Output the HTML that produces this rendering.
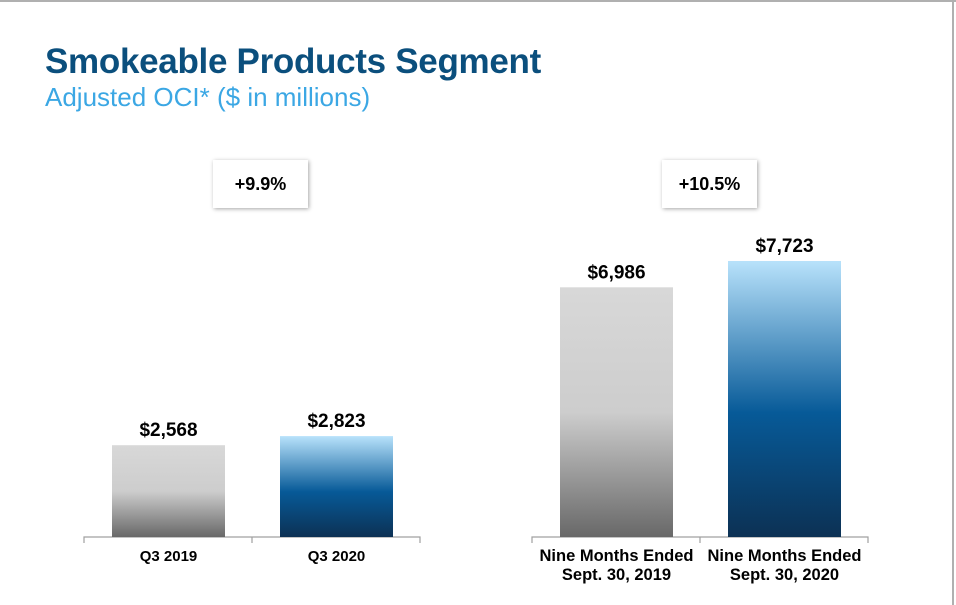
<!DOCTYPE html>
<html><head><meta charset="utf-8"><style>
html,body{margin:0;padding:0;background:#fff;}
body{width:956px;height:605px;position:relative;overflow:hidden;font-family:"Liberation Sans",Arial,sans-serif;}
.frame-top{position:absolute;left:0;top:0;width:956px;height:2px;background:#b0b0b0;}
.frame-right{position:absolute;right:2px;top:0;width:2px;height:605px;background:#b0b0b0;}
h1{position:absolute;left:45px;top:42px;margin:0;font-size:35px;font-weight:bold;color:#0b4f7d;letter-spacing:-0.3px;}
h2{position:absolute;left:45px;top:82px;margin:0;font-size:26px;font-weight:normal;color:#3ba7e4;}
.box{position:absolute;top:160px;height:48px;background:#fff;box-shadow:1px 1px 4px rgba(0,0,0,0.35);font-size:18px;font-weight:bold;display:flex;align-items:center;justify-content:center;}
</style></head><body>
<div class="frame-top"></div>
<div class="frame-right"></div>
<h1>Smokeable Products Segment</h1>
<h2>Adjusted OCI* ($ in millions)</h2>
<div class="box" style="left:213px;width:95px;">+9.9%</div>
<div class="box" style="left:662px;width:95px;">+10.5%</div>
<svg id="chart" width="956" height="605" style="position:absolute;left:0;top:0">
<defs>
<linearGradient id="gGray" x1="0" y1="0" x2="0" y2="1">
<stop offset="0" stop-color="#d8d8d8"/><stop offset="0.5" stop-color="#cdcdcd"/><stop offset="1" stop-color="#686868"/>
</linearGradient>
<linearGradient id="gBlue" x1="0" y1="0" x2="0" y2="1">
<stop offset="0" stop-color="#b8e2fb"/><stop offset="0.55" stop-color="#075a98"/><stop offset="1" stop-color="#0c3154"/>
</linearGradient>
</defs>
</svg>
<script>
const categories = [["Q3 2019"],["Q3 2020"],["Nine Months Ended","Sept. 30, 2019"],["Nine Months Ended","Sept. 30, 2020"]];
const values = [2568, 2823, 6986, 7723];
const valueLabels = ["$2,568","$2,823","$6,986","$7,723"];
const groups = [0,0,1,1];
const svg = document.getElementById('chart');
const NS = 'http://www.w3.org/2000/svg';
const baseY = 537, pxPerUnit = 0.03574;
function yScale(v){ return baseY - v*pxPerUnit; }
const groupLeft = [84, 532], slotW = 168, barW = 113, barOff = 28;
function xScale(i){ return groupLeft[groups[i]] + (i % 2)*slotW + barOff; }
function mk(tag, attrs){ const e=document.createElementNS(NS,tag); for(const k in attrs) e.setAttribute(k,attrs[k]); svg.appendChild(e); return e; }
[0,1].forEach(g=>{
  const l = mk('path',{d:`M${groupLeft[g]} ${baseY+6}V${baseY}H${groupLeft[g]+2*slotW}V${baseY+6}M${groupLeft[g]+slotW} ${baseY}V${baseY+6}`,stroke:'#a0a0a0','stroke-width':1.2,fill:'none'});
  
  
});
values.forEach((v,i)=>{
  const x = xScale(i), y = yScale(v);
  const r = mk('rect',{x:x,y:y,width:barW,height:baseY-y,fill:(i%2===0)?'url(#gGray)':'url(#gBlue)'});
  
  
  const t = mk('text',{x:x+barW/2,y:y-9,'text-anchor':'middle','font-size':19,'font-weight':'bold',fill:'#000'});
  t.textContent = valueLabels[i];
  
  
  categories[i].forEach((line,j)=>{
    const c = mk('text',{x:x+barW/2,y:561+j*19,'text-anchor':'middle','font-size':categories[i].length>1?16.5:15,'font-weight':'bold',fill:'#000'});
    c.textContent = line;
    
    
  });
});
</script>
</body></html>
